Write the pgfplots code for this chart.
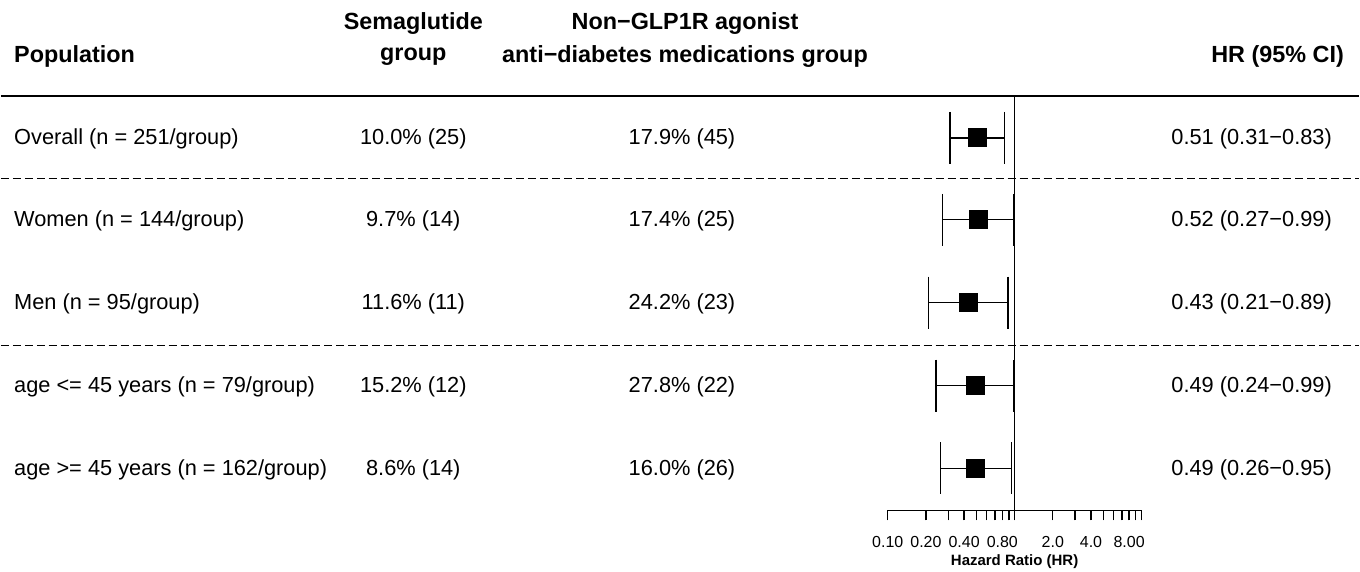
\documentclass[border=0pt]{standalone}
\usepackage{pgfplots}
\pgfplotsset{compat=1.18}
\usepackage{fontspec}
\setmainfont{Liberation Sans}
\begin{document}
\begin{tikzpicture}
\begin{scope}[x=0.5pt,y=-0.5pt]
\path (0,0) rectangle (1360,572);
\end{scope}
\begin{axis}[at={(444pt,-255.5pt)}, anchor=south west, scale only axis,
  width=127pt, height=207.5pt, xmode=log, xmin=0.1, xmax=10,
  ymin=96, ymax=511, y dir=reverse, clip=false,
  axis x line=bottom, axis y line=none,
  x axis line style={-, line width=0.7pt},
  tick align=outside, major tick length=5pt, minor tick length=5pt,
  tick style={line width=0.7pt, black},
  xtick={0.1,0.2,0.3,0.4,0.5,0.6,0.7,0.8,0.9,1,2,3,4,5,6,7,8,9,10},
  xticklabels={0.10,0.20,,0.40,,,,0.80,,,2.0,,4.0,,,,8.00,,},
  minor xtick={},
  xticklabel style={font=\fontsize{8}{9}\selectfont, inner sep=1pt, yshift=-7pt},
  /pgf/number format/assume math mode=true]
% reference line at HR = 1
\addplot[black, line width=0.7pt] coordinates {(1,96) (1,511)};
% confidence intervals
\addplot[black, line width=0.7pt, unbounded coords=jump] coordinates {
 (0.31,138) (0.83,138) (nan,nan) (0.31,112) (0.31,164) (nan,nan) (0.83,112) (0.83,164) (nan,nan)
 (0.27,220) (0.99,220) (nan,nan) (0.27,194) (0.27,246) (nan,nan) (0.99,194) (0.99,246) (nan,nan)
 (0.21,303) (0.89,303) (nan,nan) (0.21,277) (0.21,329) (nan,nan) (0.89,277) (0.89,329) (nan,nan)
 (0.24,386) (0.99,386) (nan,nan) (0.24,360) (0.24,412) (nan,nan) (0.99,360) (0.99,412) (nan,nan)
 (0.26,469) (0.95,469) (nan,nan) (0.26,443) (0.26,495) (nan,nan) (0.95,443) (0.95,495)
};
% point estimates
\addplot[only marks, mark=square*, mark size=4.5pt, black] coordinates {
 (0.51,138) (0.52,220) (0.43,303) (0.49,386) (0.49,469)};
\end{axis}
\begin{scope}[x=0.5pt,y=-0.5pt]
\def\hd{\fontsize{11.7}{14}\selectfont\bfseries}
\def\bd{\fontsize{10.9}{13}\selectfont}
% headers
\node[anchor=west, font=\hd, inner sep=0pt] at (13,57) {Population};
\node[font=\hd, inner sep=0pt] at (413,24) {Semaglutide};
\node[font=\hd, inner sep=0pt] at (413,57) {group};
\node[font=\hd, inner sep=0pt] at (685,24) {Non−GLP1R agonist};
\node[font=\hd, inner sep=0pt] at (685,57) {anti−diabetes medications group};
\node[anchor=east, font=\hd, inner sep=0pt] at (1345,57) {HR (95\% CI)};
% rules
\draw[line width=0.8pt] (0,96) -- (1360,96);
\draw[line width=0.7pt, dash pattern=on 4pt off 2pt] (0,179) -- (1360,179);
\draw[line width=0.7pt, dash pattern=on 4pt off 2pt] (0,346) -- (1360,346);
% rows
\foreach \y/\a/\b/\c/\d in {
  139/{Overall (n = 251/group)}/{10.0\% (25)}/{17.9\% (45)}/{0.51 (0.31−0.83)},
  221/{Women (n = 144/group)}/{9.7\% (14)}/{17.4\% (25)}/{0.52 (0.27−0.99)},
  304/{Men (n = 95/group)}/{11.6\% (11)}/{24.2\% (23)}/{0.43 (0.21−0.89)},
  387/{age <= 45 years (n = 79/group)}/{15.2\% (12)}/{27.8\% (22)}/{0.49 (0.24−0.99)},
  470/{age >= 45 years (n = 162/group)}/{8.6\% (14)}/{16.0\% (26)}/{0.49 (0.26−0.95)}}{
  \node[anchor=west, font=\bd, inner sep=0pt] at (13,\y) {\a};
  \node[font=\bd, inner sep=0pt] at (413,\y) {\b};
  \node[font=\bd, inner sep=0pt] at (682,\y) {\c};
  \node[anchor=east, font=\bd, inner sep=0pt] at (1333,\y) {\d};
}
\node[font=\fontsize{7.5}{9}\selectfont\bfseries, inner sep=0pt] at (1015,562) {Hazard Ratio (HR)};
\end{scope}
\end{tikzpicture}
\end{document}
